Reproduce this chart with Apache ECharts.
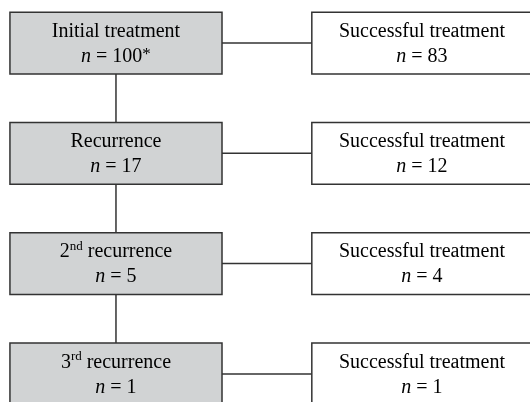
<!DOCTYPE html>
<html>
<head>
<meta charset="utf-8">
<script src="https://cdn.jsdelivr.net/npm/echarts@6/dist/echarts.min.js"></script>
<style>
  html, body { margin: 0; padding: 0; background: #ffffff; }
  #main { width: 530px; height: 402px; }
</style>
</head>
<body>
<div id="main"></div>
<script>
// flow stages, left column
var stageNames = ['Initial treatment', 'Recurrence', '2nd recurrence', '3rd recurrence'];
var stageOrdinal = ['', '', 'nd', 'rd'];
var stageCounts = [100, 17, 5, 1];
var stageNotes = ['*', '', '', ''];
// right column
var successNames = ['Successful treatment', 'Successful treatment', 'Successful treatment', 'Successful treatment'];
var successCounts = [83, 12, 4, 1];

var chart = echarts.init(document.getElementById('main'));

var font = '"Liberation Serif", "DejaVu Serif", serif';
var rich = {
  t: { fontFamily: font, fontSize: 20, color: '#231f20', lineHeight: 25 },
  s: { fontFamily: font, fontSize: 13, color: '#231f20', lineHeight: 25, verticalAlign: 'top', padding: [0, 0, 8, 0] },
  i: { fontFamily: font, fontSize: 20, color: '#231f20', fontStyle: 'italic', lineHeight: 25 },
  st: { fontFamily: font, fontSize: 17, color: '#231f20', lineHeight: 25, padding: [0, 0, 3, 0] }
};

function stageLabel(i) {
  var first;
  if (stageOrdinal[i]) {
    var m = stageNames[i].match(/^(\d+)\S*\s(.*)$/);
    first = '{t|' + m[1] + '}{s|' + stageOrdinal[i] + '}{t| ' + m[2] + '}';
  } else {
    first = '{t|' + stageNames[i] + '}';
  }
  var second = '{i|n}{t| = ' + stageCounts[i] + '}' + (stageNotes[i] ? '{st|' + stageNotes[i] + '}' : '');
  return first + '\n' + second;
}

function successLabel(i) {
  return '{t|' + successNames[i] + '}\n{i|n}{t| = ' + successCounts[i] + '}';
}

// [column, row]
var data = [];
for (var i = 0; i < stageNames.length; i++) {
  data.push([0, i]);
  data.push([1, i]);
}

function renderItem(params, api) {
  var col = api.value(0);
  var row = api.value(1);
  var c = api.coord([col, row]);
  var step = api.size([1, 1]);
  var h = step[1] * 0.56;
  var lw = step[0] * 0.693;
  var rw = step[0] * 0.72;
  var w = col === 0 ? lw : rw;
  var x0 = c[0] - w / 2;
  var y0 = c[1] - h / 2;
  var lineStyle = { stroke: '#333333', lineWidth: 1.5, fill: null };
  var children = [];

  if (col === 0) {
    // horizontal connector to the right box
    var rc = api.coord([1, row]);
    children.push({
      type: 'line',
      shape: { x1: x0 + w, y1: c[1], x2: rc[0] - rw / 2, y2: c[1] },
      style: lineStyle
    });
    if (row < stageNames.length - 1) {
      var nc = api.coord([0, row + 1]);
      children.push({
        type: 'line',
        shape: { x1: c[0], y1: y0 + h, x2: c[0], y2: nc[1] - h / 2 },
        style: lineStyle
      });
    }
  }

  children.push({
    type: 'rect',
    shape: { x: x0, y: y0, width: w, height: h },
    style: { fill: col === 0 ? '#d1d3d4' : '#ffffff', stroke: '#333333', lineWidth: 1.5 }
  });
  children.push({
    type: 'text',
    x: c[0],
    y: c[1] + 1,
    style: {
      text: col === 0 ? stageLabel(row) : successLabel(row),
      rich: rich,
      align: 'center',
      verticalAlign: 'middle'
    }
  });
  return { type: 'group', children: children };
}

var option = {
  backgroundColor: '#ffffff',
  animation: false,
  grid: { left: 0, top: 0, right: 0, bottom: 0 },
  xAxis: { type: 'value', min: -0.379, max: 1.353, show: false },
  yAxis: { type: 'value', min: -0.39, max: 3.255, inverse: true, show: false },
  series: [{
    type: 'custom',
    renderItem: renderItem,
    data: data,
    clip: false
  }]
};

chart.setOption(option);
</script>
</body>
</html>
